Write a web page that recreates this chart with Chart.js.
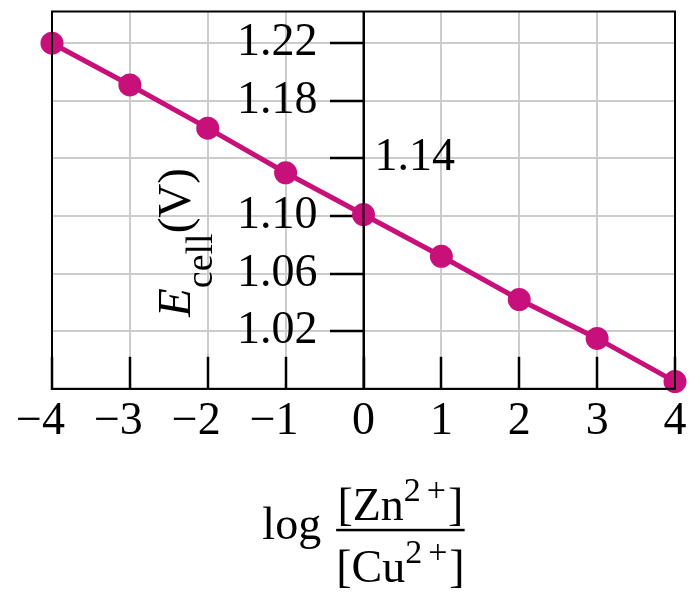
<!DOCTYPE html>
<html>
<head>
<meta charset="utf-8">
<script src="https://cdn.jsdelivr.net/npm/chart.js@4.4.1/dist/chart.umd.min.js"></script>
<style>
  html, body { margin: 0; padding: 0; background: #fff; }
  canvas { display: block; }
</style>
</head>
<body>
<canvas id="chart" width="700" height="600"></canvas>
<script>
// log([Zn2+]/[Cu2+]) against cell potential
const logRatio = [-4, -3, -2, -1, 0, 1, 2, 3, 4];
const cellPotential = [1.220, 1.191, 1.161, 1.130, 1.101, 1.072, 1.042, 1.015, 0.985];
const xTickLabels = ['\u22124', '\u22123', '\u22122', '\u22121', '0', '1', '2', '3', '4'];
const yTickValues = [1.02, 1.06, 1.10, 1.14, 1.18, 1.22];
const yTickLabels = ['1.02', '1.06', '1.10', '1.14', '1.18', '1.22'];
const yInsideLabel = '1.14'; // drawn on the right side of the axis

const SERIF = '"Liberation Serif", "Times New Roman", serif';
const MAGENTA = '#c8107a';
const GRID = '#cccccc';

function drawRuns(ctx, parts, x, y) {
  let cx = x;
  parts.forEach(p => {
    ctx.font = p.font;
    cx += p.gap || 0;
    ctx.fillText(p.text, cx, y + (p.dy || 0));
    cx += ctx.measureText(p.text).width;
  });
  return cx - x;
}

function measureRuns(ctx, parts) {
  let w = 0;
  parts.forEach(p => {
    ctx.font = p.font;
    w += (p.gap || 0) + ctx.measureText(p.text).width;
  });
  return w;
}

const annotations = {
  id: 'annotations',
  afterDatasetsDraw(chart) {
    const { ctx, chartArea: a, scales: { x } } = chart;
    const x0 = x.getPixelForValue(0);
    ctx.save();
    ctx.strokeStyle = '#000';
    ctx.lineWidth = 2;
    ctx.strokeRect(a.left, a.top, a.right - a.left, a.bottom - a.top);
    ctx.beginPath();
    ctx.moveTo(x0, a.top);
    ctx.lineTo(x0, a.bottom);
    ctx.stroke();
    ctx.restore();
  },
  afterDraw(chart) {
    const { ctx, chartArea: a, scales: { x, y } } = chart;
    const x0 = x.getPixelForValue(0);
    const main = `46px ${SERIF}`;
    const sup = `34px ${SERIF}`;
    ctx.save();
    ctx.fillStyle = '#000';

    // the one tick label that sits right of the axis
    ctx.font = main;
    ctx.textAlign = 'left';
    ctx.textBaseline = 'middle';
    ctx.fillText(yInsideLabel, x0 + 11, y.getPixelForValue(Number(yInsideLabel)));

    // y title: E_cell(V)
    ctx.textBaseline = 'alphabetic';
    const yTitle = [
      { text: 'E', font: `italic 47px ${SERIF}` },
      { text: 'cell', font: `38px ${SERIF}`, dy: 22 },
      { text: '(V)', font: `47px ${SERIF}` }
    ];
    const tw = measureRuns(ctx, yTitle);
    ctx.save();
    ctx.translate(a.left + 138, a.top + 231 + tw / 2);
    ctx.rotate(-Math.PI / 2);
    drawRuns(ctx, yTitle, 0, 0);
    ctx.restore();

    // x title: log [Zn2+]/[Cu2+]
    const num = [
      { text: '[Zn', font: main },
      { text: '2', font: sup, dy: -19 },
      { text: '+', font: sup, dy: -19, gap: 6 },
      { text: ']', font: main, gap: 2 }
    ];
    const den = [
      { text: '[Cu', font: main },
      { text: '2', font: sup, dy: -19 },
      { text: '+', font: sup, dy: -19, gap: 6 },
      { text: ']', font: main, gap: 2 }
    ];
    ctx.font = main;
    const logW = ctx.measureText('log').width;
    const numW = measureRuns(ctx, num);
    const denW = measureRuns(ctx, den);
    const fracW = Math.max(numW, denW);
    const gap = 15;
    const start = x0 - (logW + gap + fracW) / 2;
    ctx.font = main;
    ctx.fillText('log', start, a.bottom + 150);
    const fx = start + logW + gap;
    drawRuns(ctx, num, fx + (fracW - numW) / 2, a.bottom + 131);
    drawRuns(ctx, den, fx + (fracW - denW) / 2, a.bottom + 193);
    ctx.fillRect(fx, a.bottom + 140, fracW, 2.5);
    ctx.restore();
  }
};

new Chart(document.getElementById('chart'), {
  type: 'line',
  data: {
    datasets: [{
      data: logRatio.map((v, i) => ({ x: v, y: cellPotential[i] })),
      borderColor: MAGENTA,
      backgroundColor: MAGENTA,
      borderWidth: 5,
      pointRadius: 11.5,
      pointBorderWidth: 0,
      pointBackgroundColor: MAGENTA,
      tension: 0,
      clip: false
    }]
  },
  options: {
    responsive: false,
    animation: false,
    devicePixelRatio: 1,
    layout: { padding: { left: 52, right: 25, top: 8, bottom: 112 } },
    plugins: { legend: { display: false }, tooltip: { enabled: false } },
    events: [],
    scales: {
      x: {
        type: 'linear',
        min: -4,
        max: 4,
        afterFit(scale) { scale.paddingLeft = 0; scale.paddingRight = 0; },
        ticks: {
          stepSize: 1,
          autoSkip: false,
          maxRotation: 0,
          padding: 38,
          color: '#000',
          font: { family: SERIF, size: 46 },
          callback: (v, i) => xTickLabels[i] + (v < 0 ? '\u2002' : '')
        },
        grid: { color: GRID, lineWidth: 2, tickLength: -32, tickColor: '#000', tickWidth: 2.5 },
        border: { color: '#000', width: 2 }
      },
      y: {
        type: 'linear',
        min: 0.98,
        max: 1.242,
        position: { x: 0 },
        afterBuildTicks(scale) { scale.ticks = yTickValues.map(v => ({ value: v })); },
        afterFit(scale) { scale.paddingTop = 0; scale.paddingBottom = 0; },
        ticks: {
          padding: 16,
          color: '#000',
          font: { family: SERIF, size: 46 },
          // trailing em space keeps the label clear of the tick mark
          callback: (v, i) => (yTickLabels[i] === yInsideLabel ? '' : yTickLabels[i] + '\u2003')
        },
        grid: { color: GRID, lineWidth: 2, tickLength: 33, tickColor: '#000', tickWidth: 2.5 },
        border: { color: '#000', width: 2 }
      }
    }
  },
  plugins: [annotations]
});
</script>
</body>
</html>
